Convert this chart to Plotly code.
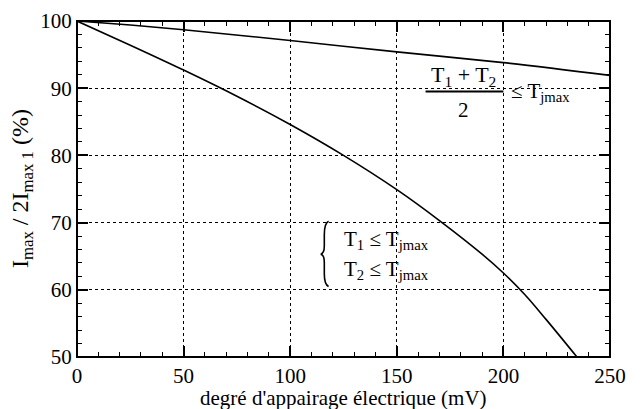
import plotly.graph_objects as go

# ---- data ----
x_avg = [0, 25, 50, 100, 150, 200, 250]
y_avg = [100, 99.4, 98.7, 97.1, 95.4, 93.8, 91.9]

x_sep = [0, 25, 50, 75, 100, 125, 150, 170, 190, 200, 210, 220, 234.5]
y_sep = [100, 96.4, 92.7, 88.8, 84.6, 80.0, 74.9, 70.3, 65.3, 62.5, 59.3, 55.6, 50]

x_range = [0, 250]
y_range = [50, 100]
x_tick0, x_dtick, x_minor = 0, 50, 10
y_tick0, y_dtick, y_minor = 50, 10, 2

x_title = "degré d'appairage électrique (mV)"
y_title = "I<sub>max</sub> / 2I<sub>max 1</sub> (%)"

FONT = "Liberation Serif, Times New Roman, serif"

fig = go.Figure()
# invisible trace that carries the dotted-grid axes (x2 / y2)
fig.add_trace(go.Scatter(x=x_range, y=y_range, xaxis="x2", yaxis="y2", mode="lines",
                         line=dict(color="rgba(0,0,0,0)"), showlegend=False,
                         hoverinfo="skip"))
fig.add_trace(go.Scatter(x=x_avg, y=y_avg, mode="lines",
                         line=dict(color="black", width=1.6, shape="spline"),
                         showlegend=False, hoverinfo="skip"))
fig.add_trace(go.Scatter(x=x_sep, y=y_sep, mode="lines",
                         line=dict(color="black", width=1.6, shape="spline"),
                         showlegend=False, hoverinfo="skip"))

tick_axis = dict(
    tickmode="linear", showline=True, linecolor="black", mirror="ticks",
    ticks="inside", ticklen=11, tickwidth=2, tickcolor="black",
    automargin=False,
    tickfont=dict(family=FONT, size=21, color="black"),
)
grid_axis = dict(
    tickmode="linear", showline=False, ticks="", showticklabels=False,
    showgrid=True, gridcolor="black", gridwidth=1, griddash="dot",
    zeroline=False, automargin=False,
)

fig.update_layout(
    xaxis=dict(range=x_range, tick0=x_tick0, dtick=x_dtick,
               gridcolor="rgba(0,0,0,0)", zerolinecolor="rgba(0,0,0,0)",
               minor=dict(ticks="inside", ticklen=5, tickwidth=1, tickcolor="black",
                          dtick=x_minor, tick0=x_tick0),
               **tick_axis),
    yaxis=dict(range=y_range, tick0=y_tick0, dtick=y_dtick,
               gridcolor="rgba(0,0,0,0)", zerolinecolor="rgba(0,0,0,0)",
               minor=dict(ticks="inside", ticklen=5, tickwidth=1, tickcolor="black",
                          dtick=y_minor, tick0=y_tick0),
               **tick_axis),
    xaxis2=dict(range=x_range, tick0=x_tick0, dtick=x_dtick, overlaying="x",
                anchor="y2", **grid_axis),
    yaxis2=dict(range=y_range, tick0=y_tick0, dtick=y_dtick, overlaying="y",
                anchor="x2", **grid_axis),
)

ann_font = dict(family=FONT, size=21, color="black")
annotations = [
    dict(xref="paper", yref="paper", x=0.5, y=-0.122, text=x_title, showarrow=False,
         xanchor="center", yanchor="middle",
         font=dict(family=FONT, size=21, color="black")),
    dict(xref="paper", yref="paper", x=-0.103, y=0.5, text=y_title, showarrow=False,
         xanchor="center", yanchor="middle", textangle=-90,
         font=dict(family=FONT, size=24, color="black")),
    dict(x=181.5, y=91.8, text="T<sub>1</sub> + T<sub>2</sub>", showarrow=False,
         xanchor="center", yanchor="middle",
         font=dict(family=FONT, size=22, color="black")),
    dict(x=181.5, y=86.8, text="2", showarrow=False,
         xanchor="center", yanchor="middle", font=ann_font),
    dict(x=202.5, y=89.4, text="≤ T<sub>jmax</sub>", showarrow=False,
         xanchor="left", yanchor="middle", font=ann_font),
    dict(x=124.5, y=67.4, text="T<sub>1</sub> ≤ T<sub>jmax</sub>", showarrow=False,
         xanchor="left", yanchor="middle", font=ann_font),
    dict(x=124.5, y=62.9, text="T<sub>2</sub> ≤ T<sub>jmax</sub>", showarrow=False,
         xanchor="left", yanchor="middle", font=ann_font),
]

brace_path = ("M 118,70.2 Q 116,69.9 116,68.2 L 116,66.5 "
              "Q 116,65.4 114.3,65.3 Q 116,65.2 116,64.1 L 116,62.4 "
              "Q 116,60.8 118,60.5")

fig.update_layout(
    width=635, height=401,
    margin=dict(l=69, r=33, t=13, b=52),
    paper_bgcolor="white", plot_bgcolor="white",
    font=dict(family=FONT, color="black"),
    annotations=annotations,
    shapes=[
        dict(type="rect", xref="paper", yref="paper", x0=0, x1=1, y0=0, y1=1,
             line=dict(color="black", width=2), fillcolor="rgba(0,0,0,0)"),
        dict(type="line", xref="x", yref="y", x0=163.5, x1=200, y0=89.5, y1=89.5,
             line=dict(color="black", width=2)),
        dict(type="path", xref="x", yref="y", path=brace_path,
             line=dict(color="black", width=1.6)),
    ],
)

fig.write_html("out.html")
